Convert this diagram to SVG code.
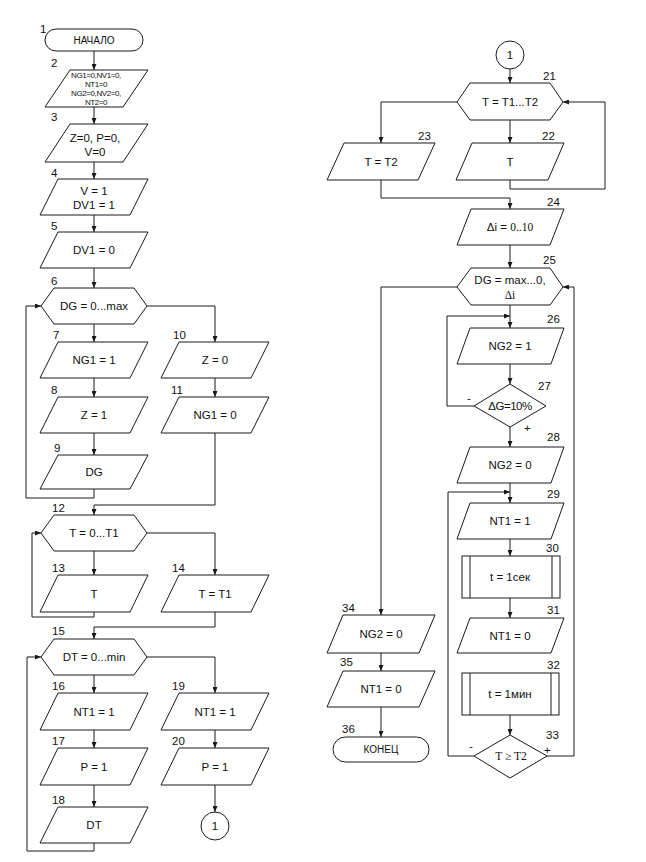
<svg xmlns="http://www.w3.org/2000/svg" width="646" height="862" viewBox="0 0 646 862">
<defs>
<marker id="ar" markerWidth="6" markerHeight="5" refX="6" refY="2.5" orient="auto" markerUnits="userSpaceOnUse"><path d="M0,0 L6,2.5 L0,5 z" fill="#1a1a1a"/></marker>
<style>
.s{fill:#fff;stroke:#1a1a1a;stroke-width:1}
.c path{fill:none;stroke:#1a1a1a;stroke-width:1}
.a{marker-end:url(#ar)}
text{font-family:"Liberation Sans",Arial,sans-serif;fill:#111}
.t{font-size:11.5px;text-anchor:middle}
.n{font-size:11.5px}
.e{font-size:11.5px;text-anchor:end}
.sm{font-size:8px;text-anchor:middle;letter-spacing:-0.4px}
.tm{font-size:10px;text-anchor:middle}
.sf{font-family:"Liberation Serif","Times New Roman",serif}
</style>
</defs>
<rect width="646" height="862" fill="#fff"/>

<g class="c">
<path class="a" d="M94,51 V70"/>
<path class="a" d="M94,107 V124"/>
<path class="a" d="M94,162 V179"/>
<path class="a" d="M94,215 V232"/>
<path class="a" d="M94,268 V288"/>
<path class="a" d="M94,324 V342"/>
<path class="a" d="M94,378 V397"/>
<path class="a" d="M94,433 V455"/>
<path class="a" d="M94,489 V498 H26 V306 H41"/>
<path class="a" d="M147,306 H215 V342"/>
<path class="a" d="M215,378 V397"/>
<path class="a" d="M215,433 V505 H94 V515"/>
<path class="a" d="M94,551 V575"/>
<path class="a" d="M94,612 V617 H32 V533 H41"/>
<path class="a" d="M147,533 H215 V575"/>
<path class="a" d="M215,612 V627 H94 V639"/>
<path class="a" d="M94,675 V693"/>
<path class="a" d="M94,730 V748"/>
<path class="a" d="M94,785 V807"/>
<path class="a" d="M94,843 V851 H27 V657 H41"/>
<path class="a" d="M147,657 H215 V693"/>
<path class="a" d="M215,730 V748"/>
<path class="a" d="M215,785 V812"/>

<path class="a" d="M510,69 V83"/>
<path class="a" d="M510,120 V143"/>
<path class="a" d="M457,102 H381 V143"/>
<path class="a" d="M510,180 V189 H605 V102 H563"/>
<path class="a" d="M381,180 V198 H510 V209"/>
<path class="a" d="M510,245 V268"/>
<path class="a" d="M510,305 V328"/>
<path class="a" d="M474,406 H447 V316 H510"/>
<path class="a" d="M510,364 V384"/>
<path class="a" d="M510,427 V447"/>
<path class="a" d="M510,483 V503"/>
<path class="a" d="M474,756 H448 V492 H510"/>
<path class="a" d="M510,539 V556"/>
<path class="a" d="M510,598 V618"/>
<path class="a" d="M510,715 V735"/>
<path class="a" d="M547,756 H574 V287 H563"/>
<path class="a" d="M457,287 H381 V615"/>
<path class="a" d="M381,653 V671"/>
<path class="a" d="M381,707 V737"/>
</g>

<g id="n1"><rect class="s" x="45" y="29" width="98" height="22" rx="11"/><text class="tm" x="94" y="44">НАЧАЛО</text><text class="n" x="40" y="33">1</text></g>
<g id="n2"><polygon class="s" points="70,70 148,70 123,107 45,107"/><text class="n" x="51" y="67">2</text>
<text class="sm" x="96" y="78">NG1=0,NV1=0,</text><text class="sm" x="96" y="87">NT1=0</text><text class="sm" x="96" y="96">NG2=0,NV2=0,</text><text class="sm" x="96" y="105">NT2=0</text></g>
<g id="n3"><polygon class="s" points="70,124 148,124 123,162 45,162"/><text class="n" x="51" y="121">3</text>
<text class="t" x="95" y="142">Z=0, P=0,</text><text class="t" x="95" y="156">V=0</text></g>
<g id="n4"><polygon class="s" points="58,179 148,179 130,215 40,215"/><text class="n" x="51" y="177">4</text>
<text class="t" x="94" y="195">V = 1</text><text class="t" x="94" y="209">DV1 = 1</text></g>
<g id="n5"><polygon class="s" points="58,232 148,232 130,268 40,268"/><text class="n" x="51" y="230">5</text><text class="t" x="94" y="254">DV1 = 0</text></g>
<g id="n6"><polygon class="s" points="41,306 54,288 134,288 147,306 134,324 54,324"/><text class="n" x="51" y="285">6</text><text class="t" x="94" y="310">DG = 0...max</text></g>
<g id="n7"><polygon class="s" points="58,342 148,342 130,378 40,378"/><text class="n" x="53" y="339">7</text><text class="t" x="94" y="364">NG1 = 1</text></g>
<g id="n8"><polygon class="s" points="58,397 148,397 130,433 40,433"/><text class="n" x="51" y="394">8</text><text class="t" x="94" y="419">Z = 1</text></g>
<g id="n9"><polygon class="s" points="58,455 148,455 130,489 40,489"/><text class="n" x="54" y="452">9</text><text class="t" x="94" y="476">DG</text></g>
<g id="n10"><polygon class="s" points="179,342 269,342 251,378 161,378"/><text class="n" x="173" y="339">10</text><text class="t" x="215" y="364">Z = 0</text></g>
<g id="n11"><polygon class="s" points="179,397 269,397 251,433 161,433"/><text class="n" x="171" y="394">11</text><text class="t" x="215" y="419">NG1 = 0</text></g>
<g id="n12"><polygon class="s" points="41,533 54,515 134,515 147,533 134,551 54,551"/><text class="n" x="52" y="512">12</text><text class="t" x="94" y="537">T = 0...T1</text></g>
<g id="n13"><polygon class="s" points="58,575 148,575 130,612 40,612"/><text class="n" x="52" y="572">13</text><text class="t" x="94" y="598">T</text></g>
<g id="n14"><polygon class="s" points="179,575 269,575 251,612 161,612"/><text class="n" x="172" y="572">14</text><text class="t" x="215" y="598">T = T1</text></g>
<g id="n15"><polygon class="s" points="41,657 54,639 134,639 147,657 134,675 54,675"/><text class="n" x="52" y="635">15</text><text class="t" x="94" y="661">DT = 0...min</text></g>
<g id="n16"><polygon class="s" points="58,693 148,693 130,730 40,730"/><text class="n" x="52" y="690">16</text><text class="t" x="94" y="716">NT1 = 1</text></g>
<g id="n17"><polygon class="s" points="58,748 148,748 130,785 40,785"/><text class="n" x="52" y="745">17</text><text class="t" x="94" y="771">P = 1</text></g>
<g id="n18"><polygon class="s" points="58,807 148,807 130,843 40,843"/><text class="n" x="52" y="804">18</text><text class="t" x="94" y="829">DT</text></g>
<g id="n19"><polygon class="s" points="179,693 269,693 251,730 161,730"/><text class="n" x="172" y="690">19</text><text class="t" x="215" y="716">NT1 = 1</text></g>
<g id="n20"><polygon class="s" points="179,748 269,748 251,785 161,785"/><text class="n" x="172" y="745">20</text><text class="t" x="215" y="771">P = 1</text></g>
<g id="c1a"><circle class="s" cx="215" cy="826" r="14"/><text class="t" x="215" y="830">1</text></g>

<g id="c1b"><circle class="s" cx="510" cy="55" r="14"/><text class="t" x="510" y="59">1</text></g>
<g id="n21"><polygon class="s" points="457,102 470,83 550,83 563,102 550,120 470,120"/><text class="n" x="543" y="80">21</text><text class="t" x="510" y="106">T = T1...T2</text></g>
<g id="n22"><polygon class="s" points="472,143 564,143 548,180 456,180"/><text class="n" x="542" y="140">22</text><text class="t" x="510" y="166">T</text></g>
<g id="n23"><polygon class="s" points="344,143 435,143 418,180 327,180"/><text class="n" x="418" y="140">23</text><text class="t" x="381" y="166">T = T2</text></g>
<g id="n24"><polygon class="s" points="471,209 564,209 550,245 457,245"/><text class="n" x="547" y="206">24</text><text class="t" x="510" y="231">Δi = <tspan class="sf">0..10</tspan></text></g>
<g id="n25"><polygon class="s" points="457,287 471,268 550,268 563,287 550,305 471,305"/><text class="n" x="543" y="264">25</text><text class="t" x="510" y="284">DG = max...0,</text><text class="t sf" x="510" y="299">Δi</text></g>
<g id="n26"><polygon class="s" points="470,328 564,328 551,364 457,364"/><text class="n" x="547" y="323">26</text><text class="t" x="510" y="350">NG2 = 1</text></g>
<g id="n27"><polygon class="s" points="510,384 546,406 510,427 474,406"/><text class="n" x="538" y="390">27</text><text class="t" x="510" y="410" style="letter-spacing:-0.5px">ΔG=10%</text><text class="n" x="467" y="402">-</text><text class="n" x="524" y="432">+</text></g>
<g id="n28"><polygon class="s" points="470,447 564,447 551,483 457,483"/><text class="n" x="547" y="441">28</text><text class="t" x="510" y="469">NG2 = 0</text></g>
<g id="n29"><polygon class="s" points="470,503 564,503 551,539 457,539"/><text class="n" x="547" y="498">29</text><text class="t" x="510" y="525">NT1 = 1</text></g>
<g id="n30"><rect class="s" x="462" y="556" width="98" height="42"/><path class="s" d="M470,556 V598 M552,556 V598"/><text class="n" x="546" y="552">30</text><text class="t" x="510" y="581">t = 1сек</text></g>
<g id="n31"><polygon class="s" points="470,618 564,618 551,653 457,653"/><text class="n" x="547" y="614">31</text><text class="t" x="510" y="640">NT1 = 0</text></g>
<g id="n32"><rect class="s" x="462" y="673" width="97" height="42"/><path class="s" d="M470,673 V715 M551,673 V715"/><text class="n" x="547" y="669">32</text><text class="t" x="510" y="698">t = 1мин</text></g>
<g id="n33"><polygon class="s" points="510,735 547,756 510,778 474,756"/><text class="n" x="546" y="739">33</text><text class="t sf" x="511" y="760">T ≥ T2</text><text class="n" x="469" y="750">-</text><text class="n" x="544" y="754">+</text></g>
<g id="n34"><polygon class="s" points="343,615 435,615 419,653 327,653"/><text class="n" x="342" y="612">34</text><text class="t" x="381" y="638">NG2 = 0</text></g>
<g id="n35"><polygon class="s" points="343,671 435,671 419,707 327,707"/><text class="n" x="340" y="666">35</text><text class="t" x="381" y="693">NT1 = 0</text></g>
<g id="n36"><rect class="s" x="333" y="737" width="96" height="25" rx="12.5"/><text class="n" x="342" y="733">36</text><text class="tm" x="381" y="753">КОНЕЦ</text></g>
</svg>
